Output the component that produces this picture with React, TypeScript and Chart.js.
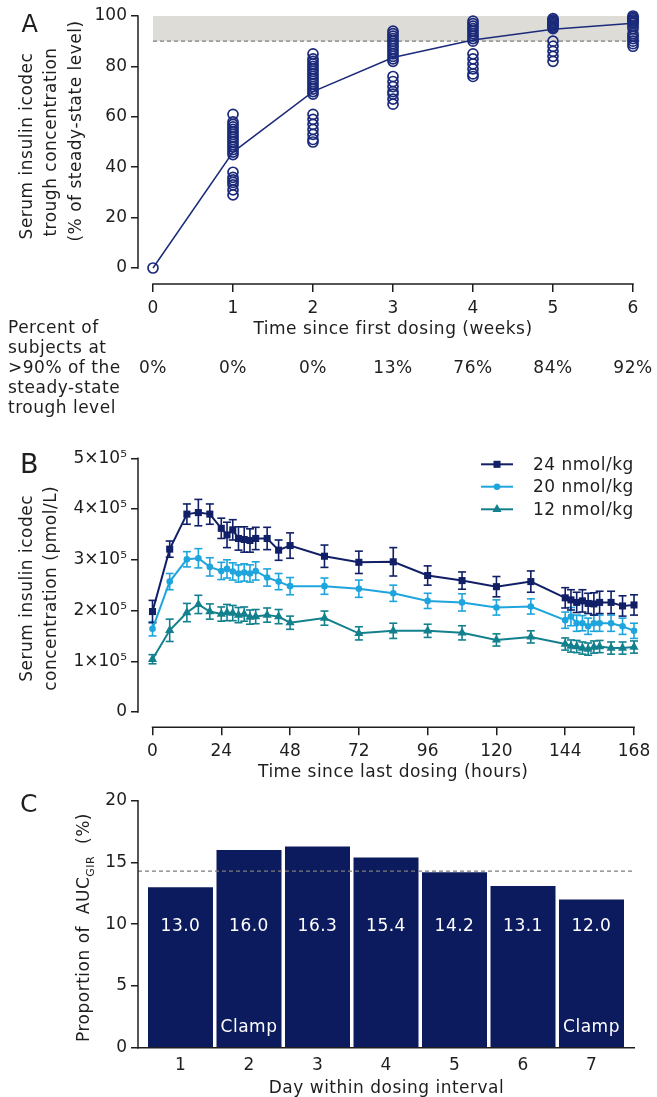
import React, { useEffect, useRef } from 'react';
import { Chart, registerables } from 'chart.js';

Chart.register(...registerables);

const FONT_FAMILY = "'DejaVu Sans', Verdana, sans-serif";
const INK = '#1e1e1e';
Chart.defaults.font.family = FONT_FAMILY;
Chart.defaults.font.size = 17;
Chart.defaults.color = INK;

// ---------------- Panel A data ----------------
const weeks = [0, 1, 2, 3, 4, 5, 6];
const meanTroughPct = [0, 46, 70, 83.5, 90.5, 94.7, 97.1];
const troughWeek0 = [0];
const troughWeek1 = [61, 58, 57, 56, 55, 54, 53, 52, 51, 50, 49, 48, 47, 46, 45, 38, 36, 35, 34, 33, 31, 29];
const troughWeek2 = [85, 83, 82, 81, 80, 79, 78, 77, 76, 75, 74, 73, 72, 71, 70, 69, 61, 59, 57, 55, 53, 51, 50];
const troughWeek3 = [94, 93, 92, 91, 90, 89, 88, 87, 86, 85, 84, 83, 82, 76, 74, 72, 70, 69, 67, 65];
const troughWeek4 = [98, 97, 96, 95, 94, 93, 92, 91, 90, 85, 83, 81, 79, 77, 76];
const troughWeek5 = [99, 98.5, 98, 97.5, 97, 96.5, 96, 95.5, 95, 90, 88, 86, 84, 82];
const troughWeek6 = [100, 99.5, 99, 98.5, 98, 97.5, 97, 96, 95, 93, 92, 91, 90, 89, 88];
const individualTrough = [troughWeek0, troughWeek1, troughWeek2, troughWeek3, troughWeek4, troughWeek5, troughWeek6];
const percentAbove90 = [0, 0, 0, 13, 76, 84, 92];
const tableRowLabel = ['Percent of', 'subjects at', '>90% of the', 'steady-state', 'trough level'];
const steadyStateBand = [90, 100];
const yTicksA = [0, 20, 40, 60, 80, 100];

// ---------------- Panel B data ----------------
const hoursB = [0, 6, 12, 16, 20, 24, 26, 28, 30, 32, 34, 36, 40, 44, 48, 60, 72, 84, 96, 108, 120, 132, 144, 146, 148, 150, 152, 154, 156, 160, 164, 168];
const conc24 = [198000, 321000, 390000, 393000, 390000, 362000, 349000, 359000, 342000, 340000, 338000, 342000, 342000, 319000, 328000, 307000, 295000, 296000, 269000, 259000, 247000, 257000, 225000, 221000, 216000, 219000, 214000, 213000, 216000, 216000, 209000, 211000];
const err24 = [22000, 16000, 20000, 26000, 20000, 20000, 25000, 20000, 23000, 25000, 23000, 22000, 22000, 20000, 25000, 22000, 22000, 28000, 19000, 17000, 20000, 21000, 20000, 20000, 20000, 22000, 20000, 22000, 22000, 22000, 20000, 20000];
const conc20 = [164000, 257000, 301000, 303000, 286000, 278000, 282000, 277000, 273000, 275000, 273000, 278000, 265000, 257000, 248000, 248000, 243000, 234000, 219000, 216000, 206000, 208000, 181000, 188000, 175000, 175000, 169000, 175000, 175000, 175000, 169000, 160000];
const err20 = [14000, 16000, 15000, 19000, 18000, 17000, 18000, 17000, 17000, 17000, 17000, 18000, 17000, 16000, 17000, 16000, 17000, 16000, 15000, 17000, 15000, 15000, 16000, 18000, 16000, 15000, 16000, 16000, 16000, 16000, 16000, 15000];
const conc12 = [104000, 161000, 196000, 212000, 198000, 193000, 196000, 195000, 191000, 193000, 187000, 188000, 191000, 188000, 176000, 185000, 155000, 160000, 160000, 156000, 142000, 148000, 134000, 130000, 129000, 126000, 124000, 128000, 129000, 126000, 126000, 128000];
const err12 = [9000, 22000, 18000, 18000, 15000, 14000, 16000, 15000, 15000, 14000, 14000, 14000, 14000, 14000, 13000, 14000, 13000, 15000, 13000, 14000, 12000, 12000, 12000, 12000, 12000, 12000, 12000, 12000, 12000, 12000, 12000, 12000];
const doseLabels = ['24 nmol/kg', '20 nmol/kg', '12 nmol/kg'];
const xTicksB = [0, 24, 48, 72, 96, 120, 144, 168];
const yTicksB = [0, 100000, 200000, 300000, 400000, 500000];
const yTickLabelsB = ['0', '1×10⁵', '2×10⁵', '3×10⁵', '4×10⁵', '5×10⁵'];

// ---------------- Panel C data ----------------
const days = [1, 2, 3, 4, 5, 6, 7];
const aucShare = [13.0, 16.0, 16.3, 15.4, 14.2, 13.1, 12.0];
const clampDays = ['', 'Clamp', '', '', '', '', 'Clamp'];
const meanShare = 14.29;
const yTicksC = [0, 5, 10, 15, 20];

// ---------------- styles ----------------
const W = 657;
const TXT = 17;
const SPACING = '0.5px';
const NAVY_A = '#1b2a7a';
const BAND = '#dddcd7';
const DASH = '#7d7d7d';
const C24 = '#101f66';
const C20 = '#1ea5dd';
const C12 = '#13808e';
const BAR = '#0c1b5e';
const f = (s: number) => `${s}px ${FONT_FAMILY}`;

type Area = { left: number; right: number; top: number; bottom: number };
function geometry(H: number, area: Area) {
  const zero = (s: any) => {
    s.paddingTop = 0; s.paddingBottom = 0; s.paddingLeft = 0; s.paddingRight = 0;
  };
  return {
    layout: { padding: { left: 0, top: area.top, right: W - area.right, bottom: 0 } },
    yFit: (s: any) => { s.width = area.left; zero(s); },
    xFit: (s: any) => { s.height = H - area.bottom; zero(s); },
  };
}

const tickGrid = (len: number) => ({
  drawOnChartArea: false, drawTicks: true, tickLength: len, color: INK, lineWidth: 1.5,
});

function line(ctx: CanvasRenderingContext2D, x1: number, y1: number, x2: number, y2: number) {
  ctx.beginPath(); ctx.moveTo(x1, y1); ctx.lineTo(x2, y2); ctx.stroke();
}

function textStyle(ctx: any, size: number, color = INK) {
  ctx.font = f(size);
  ctx.fillStyle = color;
  ctx.letterSpacing = SPACING;
}

function rotText(ctx: CanvasRenderingContext2D, text: string, x: number, y: number, size: number) {
  ctx.save();
  ctx.translate(x, y);
  ctx.rotate(-Math.PI / 2);
  textStyle(ctx, size);
  ctx.textAlign = 'center';
  ctx.textBaseline = 'middle';
  ctx.fillText(text, 0, 0);
  ctx.restore();
}

function letter(ctx: CanvasRenderingContext2D, t: string, x: number, y: number, size: number) {
  ctx.save();
  ctx.font = f(size);
  ctx.fillStyle = INK;
  ctx.textAlign = 'left';
  ctx.textBaseline = 'alphabetic';
  ctx.fillText(t, x, y);
  ctx.restore();
}

// ---------------- Panel A ----------------
function makeA(canvas: HTMLCanvasElement) {
  const H = 430;
  const area = { left: 138, right: 640, top: 10, bottom: 284 };
  const g = geometry(H, area);
  const scatterPts = individualTrough.flatMap((vals, i) => vals.map((v) => ({ x: weeks[i], y: v })));
  const meanPts = weeks.map((w, i) => ({ x: w, y: meanTroughPct[i] }));
  const plugin = {
    id: 'panelA',
    beforeDatasetsDraw(chart: any) {
      const { ctx, scales: { x, y } } = chart;
      const x0 = x.getPixelForValue(weeks[0]);
      const x1 = x.getPixelForValue(6.08);
      const yLo = y.getPixelForValue(steadyStateBand[0]);
      const yHi = y.getPixelForValue(steadyStateBand[1]);
      ctx.save();
      ctx.fillStyle = BAND;
      ctx.fillRect(x0, yHi, x1 - x0, yLo - yHi);
      ctx.strokeStyle = DASH;
      ctx.lineWidth = 1.2;
      ctx.setLineDash([4, 3]);
      line(ctx, x0, yLo, x1, yLo);
      ctx.restore();
    },
    afterDraw(chart: any) {
      const { ctx, scales: { x, y }, chartArea } = chart;
      ctx.save();
      ctx.strokeStyle = INK;
      ctx.lineWidth = 1.5;
      line(ctx, chartArea.left, y.getPixelForValue(0) + 0.75, chartArea.left, y.getPixelForValue(100) - 0.75);
      line(ctx, x.getPixelForValue(0) - 0.75, chartArea.bottom, x.getPixelForValue(6) + 0.75, chartArea.bottom);
      ctx.restore();
      rotText(ctx, 'Serum insulin icodec', 28, 146, TXT);
      rotText(ctx, 'trough concentration', 52, 142, TXT);
      rotText(ctx, '(% of steady-state level)', 77, 131, TXT);
      ctx.save();
      textStyle(ctx, TXT);
      ctx.textBaseline = 'alphabetic';
      ctx.textAlign = 'center';
      ctx.fillText('Time since first dosing (weeks)', (x.getPixelForValue(0) + x.getPixelForValue(6)) / 2, 334);
      ctx.textAlign = 'left';
      tableRowLabel.forEach((t, i) => ctx.fillText(t, 8, 333.3 + i * 20));
      ctx.textAlign = 'center';
      percentAbove90.forEach((p, i) => ctx.fillText(`${p}%`, x.getPixelForValue(weeks[i]), 373.3));
      ctx.restore();
      letter(ctx, 'A', 21.5, 31.7, 24);
    },
  };
  return new Chart(canvas, {
    type: 'line',
    data: {
      datasets: [
        { data: meanPts, borderColor: NAVY_A, borderWidth: 1.5, pointRadius: 0, fill: false, tension: 0, clip: false } as any,
        {
          data: scatterPts, showLine: false, pointRadius: 5, pointBorderWidth: 1.7,
          pointBorderColor: NAVY_A, pointBackgroundColor: 'rgba(0,0,0,0)', borderColor: NAVY_A, clip: false,
        } as any,
      ],
    },
    options: {
      responsive: false, animation: false, events: [],
      layout: g.layout,
      plugins: { legend: { display: false }, tooltip: { enabled: false } },
      scales: {
        x: {
          type: 'linear', min: -0.1875, max: 6.0875,
          afterBuildTicks: (s: any) => { s.ticks = weeks.map((v) => ({ value: v })); },
          afterFit: g.xFit,
          grid: tickGrid(8), border: { display: false },
          ticks: { padding: 6.5, color: INK, font: { size: TXT }, callback: (v: any) => String(v) },
        },
        y: {
          type: 'linear', min: -6.349, max: 102.381,
          afterBuildTicks: (s: any) => { s.ticks = yTicksA.map((v) => ({ value: v })); },
          afterFit: g.yFit,
          grid: tickGrid(7), border: { display: false },
          ticks: { padding: 4, color: INK, font: { size: TXT }, callback: (v: any) => String(v) },
        },
      },
    } as any,
    plugins: [plugin],
  });
}

// ---------------- Panel B ----------------
function makeB(canvas: HTMLCanvasElement) {
  const H = 360;
  const area = { left: 138, right: 640, top: 18, bottom: 297.3 };
  const g = geometry(H, area);
  const series = [
    { label: doseLabels[0], values: conc24, err: err24, color: C24, style: 'rect', radius: 5 },
    { label: doseLabels[1], values: conc20, err: err20, color: C20, style: 'circle', radius: 3.3 },
    { label: doseLabels[2], values: conc12, err: err12, color: C12, style: 'triangle', radius: 5.3 },
  ];
  const drawMarker = (ctx: CanvasRenderingContext2D, style: string, cx: number, cy: number, r: number) => {
    ctx.beginPath();
    if (style === 'rect') {
      const h = r * Math.SQRT1_2;
      ctx.rect(cx - h, cy - h, 2 * h, 2 * h);
    } else if (style === 'circle') {
      ctx.arc(cx, cy, r, 0, Math.PI * 2);
    } else {
      for (let k = 0; k < 3; k++) {
        const a = (k * 2 * Math.PI) / 3;
        const px = cx + Math.sin(a) * r;
        const py = cy - Math.cos(a) * r;
        if (k === 0) ctx.moveTo(px, py); else ctx.lineTo(px, py);
      }
      ctx.closePath();
    }
    ctx.fill();
  };
  const plugin = {
    id: 'panelB',
    beforeDatasetsDraw(chart: any) {
      const { ctx, scales: { x, y } } = chart;
      ctx.save();
      ctx.lineWidth = 1.6;
      series.slice().reverse().forEach((s) => {
        ctx.strokeStyle = s.color;
        s.values.forEach((v, i) => {
          const px = x.getPixelForValue(hoursB[i]);
          const yt = y.getPixelForValue(v + s.err[i]);
          const yb = y.getPixelForValue(v - s.err[i]);
          line(ctx, px, yt, px, yb);
          line(ctx, px - 4, yt, px + 4, yt);
          line(ctx, px - 4, yb, px + 4, yb);
        });
      });
      ctx.restore();
    },
    afterDraw(chart: any) {
      const { ctx, scales: { x, y }, chartArea } = chart;
      ctx.save();
      ctx.strokeStyle = INK;
      ctx.lineWidth = 1.5;
      line(ctx, chartArea.left, y.getPixelForValue(0) + 0.75, chartArea.left, y.getPixelForValue(500000) - 0.75);
      line(ctx, x.getPixelForValue(0) - 0.75, chartArea.bottom, x.getPixelForValue(168) + 0.75, chartArea.bottom);
      // legend
      const legY = [34.3, 56.7, 79.3];
      series.forEach((s, i) => {
        ctx.strokeStyle = s.color;
        ctx.fillStyle = s.color;
        ctx.lineWidth = 2;
        line(ctx, 481, legY[i], 513, legY[i]);
        drawMarker(ctx, s.style, 497, legY[i], s.radius);
        textStyle(ctx, TXT);
        ctx.textAlign = 'left';
        ctx.textBaseline = 'middle';
        ctx.fillText(s.label, 533, legY[i] + 1);
      });
      textStyle(ctx, TXT);
      ctx.textAlign = 'center';
      ctx.textBaseline = 'alphabetic';
      ctx.fillText('Time since last dosing (hours)', (x.getPixelForValue(0) + x.getPixelForValue(168)) / 2, 347.3);
      ctx.restore();
      rotText(ctx, 'Serum insulin icodec', 28, 158.3, TXT);
      rotText(ctx, 'concentration (pmol/L)', 52, 158.3, TXT);
      letter(ctx, 'B', 20, 42.7, 27);
    },
  };
  return new Chart(canvas, {
    type: 'line',
    data: {
      datasets: series.map((s) => ({
        label: s.label,
        data: hoursB.map((h, i) => ({ x: h, y: s.values[i] })),
        borderColor: s.color,
        backgroundColor: s.color,
        borderWidth: 2,
        pointStyle: s.style,
        pointRadius: s.radius,
        pointBorderWidth: 0,
        pointBackgroundColor: s.color,
        tension: 0,
        fill: false,
        clip: false,
      })) as any,
    },
    options: {
      responsive: false, animation: false, events: [],
      layout: g.layout,
      plugins: { legend: { display: false }, tooltip: { enabled: false } },
      scales: {
        x: {
          type: 'linear', min: -5.06, max: 170.09,
          afterBuildTicks: (s: any) => { s.ticks = xTicksB.map((v) => ({ value: v })); },
          afterFit: g.xFit,
          grid: tickGrid(8), border: { display: false },
          ticks: { padding: 6.5, color: INK, font: { size: TXT }, callback: (v: any) => String(v) },
        },
        y: {
          type: 'linear', min: -30150, max: 520300,
          afterBuildTicks: (s: any) => { s.ticks = yTicksB.map((v) => ({ value: v })); },
          afterFit: g.yFit,
          grid: tickGrid(7), border: { display: false },
          ticks: { padding: 4, color: INK, font: { size: TXT }, callback: (_v: any, i: number) => yTickLabelsB[i] },
        },
      },
    } as any,
    plugins: [plugin],
  });
}

// ---------------- Panel C ----------------
function makeC(canvas: HTMLCanvasElement) {
  const H = 307;
  const area = { left: 138, right: 635, top: 10.7, bottom: 257.7 };
  const g = geometry(H, area);
  const plugin = {
    id: 'panelC',
    afterDatasetsDraw(chart: any) {
      const { ctx, scales: { x, y }, chartArea } = chart;
      ctx.save();
      textStyle(ctx, TXT, '#ffffff');
      ctx.textAlign = 'center';
      ctx.textBaseline = 'middle';
      days.forEach((d, i) => {
        const px = x.getPixelForValue(d);
        ctx.fillText(aucShare[i].toFixed(1), px, y.getPixelForValue(9.8));
        if (clampDays[i]) ctx.fillText(clampDays[i], px, y.getPixelForValue(1.6));
      });
      ctx.strokeStyle = DASH;
      ctx.lineWidth = 1.2;
      ctx.setLineDash([4, 3]);
      const ym = y.getPixelForValue(meanShare);
      line(ctx, chartArea.left, ym, chartArea.right - 3, ym);
      ctx.restore();
    },
    afterDraw(chart: any) {
      const { ctx, scales: { y }, chartArea } = chart;
      ctx.save();
      ctx.strokeStyle = INK;
      ctx.lineWidth = 1.5;
      line(ctx, chartArea.left, y.getPixelForValue(0) + 0.75, chartArea.left, y.getPixelForValue(20) - 0.75);
      line(ctx, chartArea.left - 0.75, y.getPixelForValue(0), chartArea.right, y.getPixelForValue(0));
      textStyle(ctx, TXT);
      ctx.textAlign = 'center';
      ctx.textBaseline = 'alphabetic';
      ctx.fillText('Day within dosing interval', (chartArea.left + chartArea.right) / 2, 303.3);
      // rotated y title with subscript
      ctx.translate(89, 137.5);
      ctx.rotate(-Math.PI / 2);
      ctx.textAlign = 'left';
      const p1 = 'Proportion of  AUC';
      const p2 = 'GIR';
      const p3 = '  (%)';
      textStyle(ctx, TXT);
      const w1 = ctx.measureText(p1).width;
      const w3 = ctx.measureText(p3).width;
      textStyle(ctx, 11);
      const w2 = ctx.measureText(p2).width;
      let u = -(w1 + w2 + w3) / 2;
      textStyle(ctx, TXT);
      ctx.fillText(p1, u, 0);
      u += w1;
      textStyle(ctx, 11);
      ctx.fillText(p2, u, 5);
      u += w2;
      textStyle(ctx, TXT);
      ctx.fillText(p3, u, 0);
      ctx.restore();
      letter(ctx, 'C', 20, 21.7, 25);
    },
  };
  return new Chart(canvas, {
    type: 'bar',
    data: {
      datasets: [
        {
          data: days.map((d, i) => ({ x: d, y: aucShare[i] })),
          backgroundColor: BAR,
          borderWidth: 0,
          barPercentage: 0.949,
          categoryPercentage: 1,
        } as any,
      ],
    },
    options: {
      responsive: false, animation: false, events: [],
      layout: g.layout,
      plugins: { legend: { display: false }, tooltip: { enabled: false } },
      scales: {
        x: {
          type: 'linear', min: 0.3796, max: 7.635, offset: false,
          afterBuildTicks: (s: any) => { s.ticks = days.map((v) => ({ value: v })); },
          afterFit: g.xFit,
          grid: { display: false, drawTicks: false }, border: { display: false },
          ticks: { padding: 7.5, color: INK, font: { size: TXT }, callback: (v: any) => String(v) },
        },
        y: {
          type: 'linear', min: 0, max: 20,
          afterBuildTicks: (s: any) => { s.ticks = yTicksC.map((v) => ({ value: v })); },
          afterFit: g.yFit,
          grid: tickGrid(7), border: { display: false },
          ticks: { padding: 4, color: INK, font: { size: TXT }, callback: (v: any) => String(v) },
        },
      },
    } as any,
    plugins: [plugin],
  });
}

export default function App() {
  const refA = useRef<HTMLCanvasElement>(null);
  const refB = useRef<HTMLCanvasElement>(null);
  const refC = useRef<HTMLCanvasElement>(null);
  useEffect(() => {
    const charts = [makeA(refA.current!), makeB(refB.current!), makeC(refC.current!)];
    return () => charts.forEach((c) => c.destroy());
  }, []);
  const cs = (top: number, h: number): React.CSSProperties => ({
    position: 'absolute', left: 0, top, width: W, height: h, display: 'block',
  });
  return (
    <div style={{ position: 'absolute', left: 0, top: 0, width: W, height: 1097, background: '#ffffff', overflow: 'hidden' }}>
      <canvas ref={refA} width={W} height={430} style={cs(0, 430)} />
      <canvas ref={refB} width={W} height={360} style={cs(430, 360)} />
      <canvas ref={refC} width={W} height={307} style={cs(790, 307)} />
    </div>
  );
}
